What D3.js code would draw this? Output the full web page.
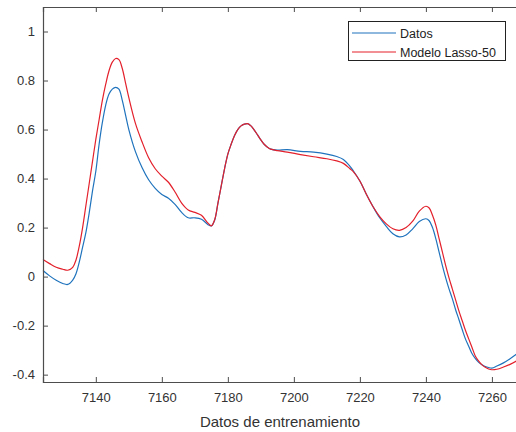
<!DOCTYPE html>
<html>
<head>
<meta charset="utf-8">
<script src="https://cdn.jsdelivr.net/npm/d3@7"></script>
<style>
  body { margin: 0; background: #fff; }
  svg { display: block; font-family: "Liberation Sans", Arial, sans-serif; }
</style>
</head>
<body>
<div id="chart"></div>
<script>
// sample positions
var muestras = [7124, 7126, 7128, 7130, 7131.5, 7133, 7134, 7135, 7136, 7137, 7138, 7139, 7140, 7141, 7142, 7143, 7144, 7145, 7146, 7147, 7148, 7149, 7150, 7152, 7154, 7156, 7158, 7160, 7162, 7164, 7166, 7168, 7170, 7172, 7174, 7175, 7176, 7177, 7178, 7179, 7180, 7181, 7182, 7183, 7184, 7185, 7186, 7187, 7188, 7189, 7190, 7191, 7192, 7193, 7195, 7198, 7202, 7206, 7210, 7213, 7215, 7217, 7218, 7220, 7222, 7224, 7226, 7228, 7230, 7232, 7234, 7236, 7238, 7240, 7241, 7242, 7243, 7244, 7245, 7246, 7247, 7248, 7249, 7250, 7251, 7252, 7253, 7254, 7255, 7256, 7257, 7258, 7259, 7260, 7261.5, 7263.5, 7265.5, 7267.5];

var datos = [0.025, 0.003, -0.015, -0.028, -0.032, -0.014, 0.012, 0.06, 0.12, 0.18, 0.26, 0.35, 0.43, 0.54, 0.63, 0.70, 0.745, 0.765, 0.772, 0.765, 0.72, 0.66, 0.6, 0.51, 0.445, 0.395, 0.36, 0.335, 0.32, 0.295, 0.262, 0.24, 0.24, 0.234, 0.212, 0.207, 0.23, 0.3, 0.37, 0.44, 0.5, 0.54, 0.575, 0.6, 0.615, 0.622, 0.624, 0.615, 0.598, 0.578, 0.558, 0.54, 0.528, 0.52, 0.516, 0.518, 0.511, 0.508, 0.5, 0.49, 0.478, 0.45, 0.432, 0.39, 0.335, 0.285, 0.24, 0.205, 0.175, 0.162, 0.17, 0.195, 0.225, 0.236, 0.228, 0.2, 0.155, 0.1, 0.045, -0.005, -0.05, -0.09, -0.135, -0.175, -0.216, -0.255, -0.285, -0.315, -0.335, -0.35, -0.36, -0.367, -0.371, -0.373, -0.365, -0.352, -0.335, -0.316];

var modelo = [0.07, 0.053, 0.038, 0.03, 0.026, 0.038, 0.068, 0.125, 0.2, 0.29, 0.38, 0.47, 0.56, 0.64, 0.72, 0.785, 0.84, 0.875, 0.89, 0.885, 0.85, 0.79, 0.73, 0.625, 0.55, 0.485, 0.44, 0.41, 0.385, 0.345, 0.3, 0.272, 0.262, 0.25, 0.218, 0.207, 0.232, 0.3, 0.37, 0.44, 0.5, 0.54, 0.575, 0.6, 0.615, 0.622, 0.624, 0.615, 0.598, 0.578, 0.558, 0.54, 0.528, 0.52, 0.514, 0.508, 0.498, 0.489, 0.481, 0.472, 0.462, 0.44, 0.428, 0.39, 0.335, 0.285, 0.245, 0.215, 0.195, 0.189, 0.2, 0.226, 0.267, 0.287, 0.28, 0.25, 0.21, 0.155, 0.1, 0.045, -0.005, -0.05, -0.095, -0.14, -0.18, -0.22, -0.255, -0.29, -0.325, -0.345, -0.36, -0.37, -0.377, -0.38, -0.378, -0.369, -0.358, -0.344];

var xTicks = [7140, 7160, 7180, 7200, 7220, 7240, 7260];
var yTicks = [-0.4, -0.2, 0, 0.2, 0.4, 0.6, 0.8, 1];
var nombres = ["Datos", "Modelo Lasso-50"];
var colores = ["#1f73bd", "#e3202b"];

var W = 516, H = 432;
// plot box edges (note: "top" is reserved by window, so use a margin object)
var m = { left: 43, right: 517, top: 7, bottom: 382 };
var ejeColor = "#4d4d4d";

var svg = d3.select("#chart").append("svg")
    .attr("width", W)
    .attr("height", H);

var x = d3.scaleLinear().domain([7124, 7267.6]).range([m.left, m.right]);
var y = d3.scaleLinear().domain([-0.43, 1.1]).range([m.bottom, m.top]);

// lines
var linea = function (vals) {
    return d3.line()
        .x(function (d, i) { return x(muestras[i]) })
        .y(function (d) { return y(d) })
        .curve(d3.curveCatmullRom.alpha(0.5))(vals);
};

[datos, modelo].forEach(function (serie, k) {
    svg.append("path")
        .attr("fill", "none")
        .attr("stroke", colores[k])
        .attr("stroke-width", 1.2)
        .attr("d", linea(serie));
});

// axes, MATLAB style: ticks inward, box on
var ejeX = svg.append("g")
    .attr("transform", "translate(0," + m.bottom + ")")
    .call(d3.axisBottom(x).tickValues(xTicks).tickSize(-5).tickPadding(11).tickFormat(d3.format("d")));
var ejeXtop = svg.append("g")
    .attr("transform", "translate(0," + m.top + ")")
    .call(d3.axisTop(x).tickValues(xTicks).tickSize(-5).tickFormat(""));
var ejeY = svg.append("g")
    .attr("transform", "translate(" + m.left + ",0)")
    .call(d3.axisLeft(y).tickValues(yTicks).tickSize(-5).tickPadding(8)
        .tickFormat(function (d) { return String(+d.toFixed(1)) }));

[ejeX, ejeXtop, ejeY].forEach(function (g) {
    g.select(".domain").attr("stroke", ejeColor).attr("stroke-width", 1.2);
    g.selectAll(".tick line").attr("stroke", ejeColor);
    g.selectAll(".tick text")
        .attr("fill", "#333")
        .style("font-size", "13px")
        .style("font-family", "'Liberation Sans', Arial, sans-serif");
});

// x label
svg.append("text")
    .attr("x", (m.left + m.right) / 2)
    .attr("y", 427)
    .attr("text-anchor", "middle")
    .attr("fill", "#333")
    .style("font-size", "15px")
    .text("Datos de entrenamiento");

// legend
var ley = svg.append("g");
ley.append("rect")
    .attr("x", 348.5).attr("y", 21.5)
    .attr("width", 157).attr("height", 39)
    .attr("fill", "#fff")
    .attr("stroke", "#222")
    .attr("stroke-width", 1);

nombres.forEach(function (n, k) {
    var yy = 33 + k * 19;
    ley.append("line")
        .attr("x1", 352).attr("x2", 396)
        .attr("y1", yy).attr("y2", yy)
        .attr("stroke", colores[k])
        .attr("stroke-width", 1.2);
    ley.append("text")
        .attr("x", 400).attr("y", yy + 4.5)
        .attr("fill", "#222")
        .style("font-size", "12.5px")
        .text(n);
});
</script>
</body>
</html>
